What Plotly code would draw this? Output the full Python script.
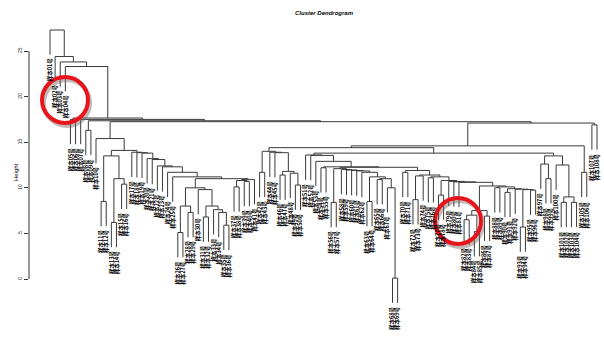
import plotly.graph_objects as go

# ---- merge heights of the hierarchical clustering ----
# a node is [height, left, right]; a leaf is None

def pair(h):
    return [h, None, None]


def chain(heights, tail):
    """Leaves joining one after another onto `tail` at the given heights."""
    node = tail
    for h in reversed(heights):
        node = [h, None, node]
    return node


outlier_heights = [27.3, 24.4, 23.8, 23.3]

grp_c2 = [13.5, pair(8.5), [11.0, pair(6.2), pair(10.4)]]
grp_d = [10.0, [8.0, pair(5.1), pair(7.3)],
         [9.8, None, [8.0, pair(6.8), [7.6, None, [7.3, None, pair(5.9)]]]]]
grp_f = [10.9, [10.8, pair(10.1), pair(10.7)], None]
left_chain_heights = [13.9, 13.85, 13.8, 13.2, 13.1, 12.4, 12.3, 11.7, 11.2]
grp_left = [14.1, grp_c2, chain(left_chain_heights, [11.0, grp_d, grp_f])]

grp_m1 = [14.0, pair(11.7),
          [13.9, None, [13.85, None, [11.8, pair(11.4), [11.6, None, pair(10.3)]]]]]
grp_m3a = [12.1, pair(8.4),
           chain([12.0, 11.95, 11.9, 11.85, 11.7],
                 [11.2, pair(8.5), [11.0, pair(10.9), [10.0, None, pair(0.1)]]])]
grp_tail = [10.2, [7.5, [7.0, pair(6.5), pair(5.2)], pair(6.9)],
            [10.1, pair(10.0), [9.9, pair(9.5), [9.85, None, [9.8, pair(5.7), pair(9.75)]]]]]
grp_m3b = [11.9, pair(11.7),
           [11.4, [11.3, pair(8.7), None],
            [11.2, pair(11.1), [10.8, pair(9.2), chain([10.7, 10.65, 10.6], grp_tail)]]]]
grp_m2a = chain([13.6, 13.55, 12.9], [12.3, pair(12.2), [12.25, grp_m3a, grp_m3b]])
grp_m2b = [13.5, [12.6, None, pair(11.0)],
           [12.5, None, [9.0, pair(8.4), pair(8.4)]]]
grp_mid = [14.4, grp_m1, [13.8, grp_m2a, grp_m2b]]

grp_right = [17.1, [14.6, grp_mid, pair(11.7)], pair(16.9)]
grp_body = [17.65, pair(17.5),
            [17.5, None,
             [17.35, pair(16.3),
              [17.25, [15.4, None, grp_left], grp_right]]]]

tree = chain(outlier_heights, grp_body)

# highlighted regions: (centre x px, centre y px, radius px)
highlights = [(65, 100, 23), (458, 221, 23)]

# ---- layout of the dendrogram (leaf order, node midpoints) ----

def all_heights(node, out):
    if node is not None:
        out.append(node[0])
        all_heights(node[1], out)
        all_heights(node[2], out)
    return out


hs = all_heights(tree, [])
hang = 0.1 * (max(hs) - min(hs))

seg_x, seg_y = [], []
leaf_bottom = []


def place(node):
    if node is None:
        leaf_bottom.append(None)
        return len(leaf_bottom) - 1, None
    h, a, b = node
    xa, ha = place(a)
    if ha is None:
        leaf_bottom[xa] = h - hang
        ha = h - hang
    xb, hb = place(b)
    if hb is None:
        leaf_bottom[xb] = h - hang
        hb = h - hang
    seg_x.extend([xa, xa, xb, xb, None])
    seg_y.extend([ha, h, h, hb, None])
    return (xa + xb) / 2, h


place(tree)
n_leaves = len(leaf_bottom)
leaf_labels = [f"样本{i:02d}号" for i in range(1, n_leaves + 1)]

# ---- figure ----
W, H = 604, 338
left_px = 29
first_px, last_px = 50, 597
k = (last_px - first_px) / (n_leaves - 1)
x0 = -(first_px - left_px) / k
x1 = x0 + (W - left_px) / k

px_per_unit = 9.12
zero_px = 279
y_lo = (zero_px - H) / px_per_unit
y_hi = zero_px / px_per_unit


def px_to_paper(px, py):
    return (px - left_px) / (W - left_px), 1 - py / H


fig = go.Figure()
fig.add_trace(go.Scatter(x=seg_x, y=seg_y, mode="lines",
                         line=dict(color="#3a3a3a", width=1),
                         hoverinfo="skip", showlegend=False))

label_font = dict(family="Noto Sans CJK SC", size=5.5, color="#000000")
annotations = []
for i, (lab, yb) in enumerate(zip(leaf_labels, leaf_bottom)):
    annotations.append(dict(x=i, y=yb, text=f"<b>{lab}</b>", showarrow=False,
                            textangle=-90, xanchor="center", yanchor="top",
                            yshift=-2, font=label_font))

tx, ty = px_to_paper(324, 8)
annotations.append(dict(xref="paper", yref="paper", x=tx, y=ty,
                        text="<b><i>Cluster Dendrogram</i></b>", showarrow=False,
                        font=dict(family="Liberation Sans", size=6, color="black")))
hx, hy = px_to_paper(11, 172)
annotations.append(dict(xref="paper", yref="paper", x=hx, y=hy,
                        text="Height", textangle=-90, showarrow=False,
                        font=dict(family="Liberation Sans", size=6, color="black")))

shapes = [dict(type="line", xref="paper", yref="y", x0=0, x1=0, y0=0, y1=25,
               line=dict(color="#333333", width=1))]
for cx, cy, r in highlights:
    # soft drop shadow, then the red ring
    sx0, sy0 = px_to_paper(cx - r + 2, cy - r + 3)
    sx1, sy1 = px_to_paper(cx + r + 2, cy + r + 3)
    shapes.append(dict(type="circle", xref="paper", yref="paper",
                       x0=sx0, x1=sx1, y0=sy0, y1=sy1,
                       line=dict(color="rgba(120,100,100,0.45)", width=4)))
    rx0, ry0 = px_to_paper(cx - r, cy - r)
    rx1, ry1 = px_to_paper(cx + r, cy + r)
    shapes.append(dict(type="circle", xref="paper", yref="paper",
                       x0=rx0, x1=rx1, y0=ry0, y1=ry1,
                       line=dict(color="#e8141b", width=4)))

fig.update_layout(
    width=W, height=H,
    margin=dict(l=left_px, r=0, t=0, b=0),
    paper_bgcolor="white", plot_bgcolor="white",
    annotations=annotations,
    shapes=shapes,
    xaxis=dict(range=[x0, x1], visible=False),
    yaxis=dict(range=[y_lo, y_hi], tickvals=[0, 5, 10, 15, 20, 25],
               ticks="outside", ticklen=4, tickcolor="#333333",
               showline=False, showgrid=False, zeroline=False,
               tickangle=-90,
               tickfont=dict(family="Liberation Sans", size=5, color="#222")),
)

fig.write_html("out.html")
